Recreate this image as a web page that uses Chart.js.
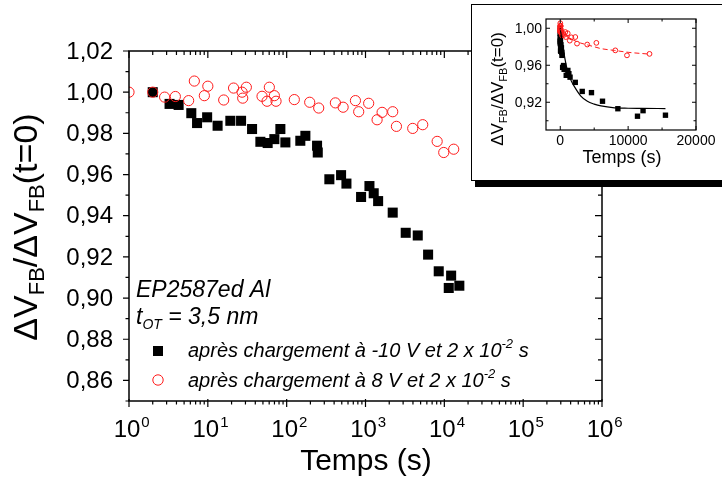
<!DOCTYPE html>
<html><head><meta charset="utf-8">
<script src="https://cdn.jsdelivr.net/npm/chart.js@4/dist/chart.umd.min.js"></script>
<style>
html,body{margin:0;padding:0;background:#fff;}
#wrap{position:relative;width:722px;height:479px;overflow:hidden;background:#fff;}
#main{position:absolute;left:0;top:0;}
#inbox{position:absolute;left:471px;top:4px;width:252px;height:175px;border:1px solid #000;background:#fff;box-shadow:4px 6px 0 0 #000;}
#inset{position:absolute;left:0;top:0;}
</style></head>
<body>
<div id="wrap">
<canvas id="main" width="722" height="479" style="width:722px;height:479px"></canvas>
<div id="inbox"><canvas id="inset" width="252" height="175" style="width:252px;height:175px"></canvas></div>
</div>
<script>
// ---- data ----
const blackT = [2, 3.27, 4.26, 6.17, 7.3, 9.8, 13.3, 19.3, 26.4, 36.4, 46.4, 57.4, 69.8, 83.2, 96.3, 149, 172.7, 243, 248, 348, 490, 573, 879, 1122, 1271, 1446, 2214, 3237, 4600, 6225, 8490, 11380, 12200, 15500];
const blackV = [1.000, 0.9943, 0.9938, 0.9898, 0.985, 0.9878, 0.9837, 0.9861, 0.9861, 0.9821, 0.9759, 0.9753, 0.9772, 0.9821, 0.9756, 0.9764, 0.9788, 0.974, 0.9707, 0.9577, 0.9597, 0.9556, 0.9491, 0.9544, 0.9509, 0.9471, 0.9415, 0.9317, 0.9304, 0.9211, 0.913, 0.9049, 0.9109, 0.906];
const redT = [1, 2, 2.83, 3.87, 5.71, 6.74, 9.03, 10.0, 15.9, 21.2, 27.2, 27.7, 30.8, 48.7, 56.4, 60.3, 69.8, 73.3, 125, 196, 255, 415, 520, 745, 820, 1097, 1403, 1624, 2214, 2468, 3972, 5320, 8110, 9830, 13150];
const redV = [1.000, 1.000, 0.9976, 0.9979, 0.9959, 1.0054, 0.9983, 1.0029, 0.9962, 1.002, 1.000, 0.9971, 1.0024, 0.998, 0.9956, 1.0024, 0.9983, 0.9956, 0.9964, 0.9951, 0.9923, 0.9948, 0.9927, 0.9959, 0.9905, 0.9946, 0.9866, 0.9902, 0.9905, 0.9834, 0.9824, 0.9842, 0.9761, 0.9707, 0.9723];
const fitBlackT = [0, 250, 500, 1000, 1500, 2000, 3000, 4000, 5000, 6000, 8000, 10000, 12000, 15500];
const fitBlackV = [1.000, 0.987, 0.975, 0.956, 0.945, 0.938, 0.927, 0.921, 0.918, 0.916, 0.914, 0.9135, 0.9133, 0.9132];
const fitRedT = [0, 500, 1000, 2000, 3000, 4000, 5000, 6000, 8000, 10000, 13200];
const fitRedV = [0.999, 0.994, 0.991, 0.987, 0.984, 0.982, 0.980, 0.978, 0.976, 0.974, 0.972];

const xMajor = [1, 10, 100, 1000, 10000, 100000, 1000000];
const xExp = ['0', '1', '2', '3', '4', '5', '6'];
const yMajor = [0.86, 0.88, 0.90, 0.92, 0.94, 0.96, 0.98, 1.00, 1.02];
const yLabels = ['0,86', '0,88', '0,90', '0,92', '0,94', '0,96', '0,98', '1,00', '1,02'];
const yMinor = [0.85, 0.87, 0.89, 0.91, 0.93, 0.95, 0.97, 0.99, 1.01];
const insetXMajor = [0, 10000, 20000];
const insetXLabels = ['0', '10000', '20000'];
const insetXMinor = [5000, 15000];
const insetYMajor = [0.92, 0.96, 1.00];
const insetYLabels = ['0,92', '0,96', '1,00'];
const insetYMinor = [0.90, 0.94, 0.98];
const legendLabels = ['après chargement à -10 V et 2 x 10', 'après chargement à 8 V et 2 x 10'];
const legendSup = '-2';
const sampleName = 'EP2587ed Al';

const FF = "'Liberation Sans', Arial, sans-serif";
const RED = '#ff1a1a';

function pts(xs, ys) { return xs.map((x, i) => ({x: x, y: ys[i]})); }

function drawRich(ctx, segs, x, y, align) {
  let total = 0;
  segs.forEach(s => { ctx.font = s.font; s.w = ctx.measureText(s.t).width; total += s.w; });
  let cx = align === 'center' ? x - total / 2 : (align === 'right' ? x - total : x);
  ctx.textAlign = 'left';
  segs.forEach(s => { ctx.font = s.font; ctx.fillText(s.t, cx, y + (s.dy || 0)); cx += s.w; });
}

const zeroW = s => { s.width = 0; };
const zeroH = s => { s.height = 0; };

const mainDeco = {
  id: 'mainDeco',
  afterDraw(chart) {
    const ctx = chart.ctx, ca = chart.chartArea, xs = chart.scales.x, ys = chart.scales.y;
    ctx.save();
    ctx.strokeStyle = '#000'; ctx.fillStyle = '#000'; ctx.lineWidth = 1.5;
    ctx.strokeRect(ca.left, ca.top, ca.right - ca.left, ca.bottom - ca.top);
    ctx.lineWidth = 1.2;
    ctx.beginPath();
    xMajor.forEach(v => {
      const px = xs.getPixelForValue(v);
      ctx.moveTo(px, ca.bottom - 2); ctx.lineTo(px, ca.bottom + 6);
      ctx.moveTo(px, ca.top); ctx.lineTo(px, ca.top + 7);
    });
    for (let d = 0; d < 6; d++) for (let k = 2; k <= 9; k++) {
      const px = xs.getPixelForValue(k * Math.pow(10, d));
      ctx.moveTo(px, ca.bottom); ctx.lineTo(px, ca.bottom + 3.5);
      ctx.moveTo(px, ca.top); ctx.lineTo(px, ca.top + 4);
    }
    yMajor.forEach(v => {
      const py = ys.getPixelForValue(v);
      ctx.moveTo(ca.left, py); ctx.lineTo(ca.left - 6, py);
      ctx.moveTo(ca.right, py); ctx.lineTo(ca.right - 7, py);
    });
    yMinor.forEach(v => {
      const py = ys.getPixelForValue(v);
      ctx.moveTo(ca.left, py); ctx.lineTo(ca.left - 3.5, py);
      ctx.moveTo(ca.right, py); ctx.lineTo(ca.right - 4, py);
    });
    ctx.stroke();
    ctx.font = '24px ' + FF; ctx.textAlign = 'right'; ctx.textBaseline = 'middle';
    yMajor.forEach((v, i) => ctx.fillText(yLabels[i], ca.left - 16, ys.getPixelForValue(v) + 1));
    ctx.textBaseline = 'alphabetic';
    xMajor.forEach((v, i) => {
      const px = xs.getPixelForValue(v);
      ctx.font = '24px ' + FF;
      const w10 = ctx.measureText('10').width;
      const x0 = px - 2 - w10 / 2;
      ctx.textAlign = 'left';
      ctx.fillText('10', x0, 437);
      ctx.font = '15px ' + FF;
      ctx.fillText(xExp[i], x0 + w10 + 1, 427);
    });
    ctx.font = '30px ' + FF; ctx.textAlign = 'center';
    ctx.fillText('Temps (s)', 366, 470);
    ctx.save();
    ctx.translate(37, 227); ctx.rotate(-Math.PI / 2);
    const big = '34px ' + FF, sm = '22px ' + FF;
    drawRich(ctx, [
      {t: 'ΔV', font: big}, {t: 'FB', font: sm, dy: 7},
      {t: '/ΔV', font: big}, {t: 'FB', font: sm, dy: 7},
      {t: '(t=0)', font: big}], 0, 0, 'center');
    ctx.restore();
    const it = 'italic 23px ' + FF;
    ctx.font = it; ctx.textAlign = 'left';
    ctx.fillText(sampleName, 136, 297);
    drawRich(ctx, [
      {t: 't', font: it}, {t: 'OT', font: 'italic 14px ' + FF, dy: 5},
      {t: ' = 3,5 nm', font: it}], 136, 324, 'left');
    const lf = 'italic 20px ' + FF, ls = 'italic 13px ' + FF;
    ctx.fillStyle = '#000';
    ctx.fillRect(153, 346, 10, 10);
    ctx.strokeStyle = RED; ctx.lineWidth = 1;
    ctx.beginPath(); ctx.arc(158, 380, 5.2, 0, Math.PI * 2); ctx.stroke();
    ctx.fillStyle = '#000';
    drawRich(ctx, [{t: legendLabels[0], font: lf}, {t: legendSup, font: ls, dy: -9}, {t: ' s', font: lf}], 188, 357, 'left');
    drawRich(ctx, [{t: legendLabels[1], font: lf}, {t: legendSup, font: ls, dy: -9}, {t: ' s', font: lf}], 188, 387, 'left');
    ctx.restore();
  }
};

new Chart(document.getElementById('main'), {
  type: 'scatter',
  data: {
    datasets: [
      {label: '8 V', data: pts(redT, redV), pointStyle: 'circle', pointRadius: 5.1, pointBorderWidth: 1,
       borderColor: RED, backgroundColor: 'rgba(0,0,0,0)', order: 0, clip: 0},
      {label: '-10 V', data: pts(blackT, blackV), pointStyle: 'rect', pointRadius: 7.1, pointBorderWidth: 0,
       borderColor: '#000', backgroundColor: '#000', order: 1, clip: 0}
    ]
  },
  options: {
    responsive: false, animation: false,
    layout: {padding: {left: 129, top: 51, right: 120, bottom: 78}},
    plugins: {legend: {display: false}, tooltip: {enabled: false}},
    scales: {
      x: {type: 'logarithmic', min: 1, max: 1000000, afterFit: zeroH, ticks: {display: false}, grid: {display: false}, border: {display: false}},
      y: {type: 'linear', min: 0.85, max: 1.02, afterFit: zeroW, ticks: {display: false}, grid: {display: false}, border: {display: false}}
    }
  },
  plugins: [mainDeco]
});

const insetDeco = {
  id: 'insetDeco',
  afterDraw(chart) {
    const ctx = chart.ctx, ca = chart.chartArea, xs = chart.scales.x, ys = chart.scales.y;
    ctx.save();
    ctx.strokeStyle = '#000'; ctx.fillStyle = '#000'; ctx.lineWidth = 1.2;
    ctx.strokeRect(ca.left, ca.top, ca.right - ca.left, ca.bottom - ca.top);
    ctx.lineWidth = 1;
    ctx.beginPath();
    insetXMajor.forEach(v => { const p = xs.getPixelForValue(v);
      ctx.moveTo(p, ca.bottom); ctx.lineTo(p, ca.bottom - 4); ctx.moveTo(p, ca.top); ctx.lineTo(p, ca.top + 4); });
    insetXMinor.forEach(v => { const p = xs.getPixelForValue(v);
      ctx.moveTo(p, ca.bottom); ctx.lineTo(p, ca.bottom - 2.5); ctx.moveTo(p, ca.top); ctx.lineTo(p, ca.top + 2.5); });
    insetYMajor.forEach(v => { const p = ys.getPixelForValue(v);
      ctx.moveTo(ca.left, p); ctx.lineTo(ca.left + 4, p); ctx.moveTo(ca.right, p); ctx.lineTo(ca.right - 4, p); });
    insetYMinor.forEach(v => { const p = ys.getPixelForValue(v);
      ctx.moveTo(ca.left, p); ctx.lineTo(ca.left + 2.5, p); ctx.moveTo(ca.right, p); ctx.lineTo(ca.right - 2.5, p); });
    ctx.stroke();
    ctx.font = '14px ' + FF; ctx.textAlign = 'right'; ctx.textBaseline = 'middle';
    insetYMajor.forEach((v, i) => ctx.fillText(insetYLabels[i], ca.left - 4, ys.getPixelForValue(v) + 1));
    ctx.textAlign = 'center'; ctx.textBaseline = 'alphabetic';
    insetXMajor.forEach((v, i) => ctx.fillText(insetXLabels[i], xs.getPixelForValue(v), 140));
    ctx.font = '18px ' + FF;
    ctx.fillText('Temps (s)', 150, 158);
    ctx.save();
    ctx.translate(31, 84); ctx.rotate(-Math.PI / 2);
    const big = '17px ' + FF, sm = '11px ' + FF;
    drawRich(ctx, [
      {t: 'ΔV', font: big}, {t: 'FB', font: sm, dy: 4},
      {t: '/ΔV', font: big}, {t: 'FB', font: sm, dy: 4},
      {t: '(t=0)', font: big}], 0, 0, 'center');
    ctx.restore();
    ctx.restore();
  }
};

new Chart(document.getElementById('inset'), {
  type: 'scatter',
  data: {
    datasets: [
      {label: 'fit 8 V', data: pts(fitRedT, fitRedV), showLine: true, pointRadius: 0, borderColor: RED,
       borderWidth: 1, borderDash: [5, 3], cubicInterpolationMode: 'monotone', order: 0},
      {label: 'fit -10 V', data: pts(fitBlackT, fitBlackV), showLine: true, pointRadius: 0, borderColor: '#000',
       borderWidth: 1.2, cubicInterpolationMode: 'monotone', order: 1},
      {label: '8 V', data: pts(redT, redV), pointStyle: 'circle', pointRadius: 2.4, pointBorderWidth: 1,
       borderColor: RED, backgroundColor: 'rgba(255,255,255,0)', order: 2},
      {label: '-10 V', data: pts(blackT, blackV), pointStyle: 'rect', pointRadius: 3.8, pointBorderWidth: 0,
       borderColor: '#000', backgroundColor: '#000', order: 3}
    ]
  },
  options: {
    responsive: false, animation: false,
    layout: {padding: {left: 74, top: 14, right: 28, bottom: 50}},
    plugins: {legend: {display: false}, tooltip: {enabled: false}},
    scales: {
      x: {type: 'linear', min: -2100, max: 20000, afterFit: zeroH, ticks: {display: false}, grid: {display: false}, border: {display: false}},
      y: {type: 'linear', min: 0.89, max: 1.01, afterFit: zeroW, ticks: {display: false}, grid: {display: false}, border: {display: false}}
    }
  },
  plugins: [insetDeco]
});
</script>
</body></html>
